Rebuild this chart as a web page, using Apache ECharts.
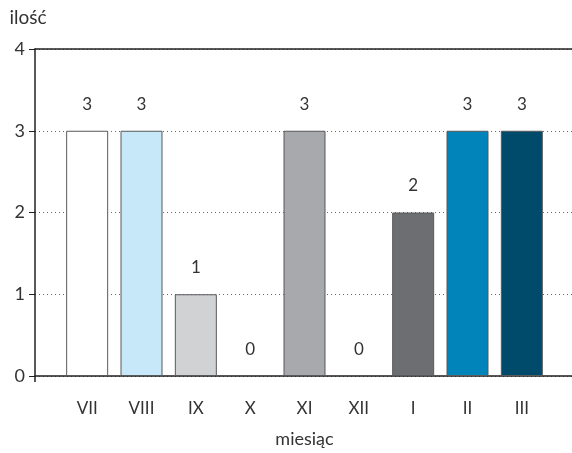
<!DOCTYPE html>
<html>
<head>
<meta charset="utf-8">
<script src="https://cdn.jsdelivr.net/npm/echarts@6/dist/echarts.min.js"></script>
<style>
  html, body { margin: 0; padding: 0; background: #fff; }
  #chart { width: 572px; height: 453px; }
</style>
</head>
<body>
<div id="chart"></div>
<script>
// Monthly counts, July through March
const months = ['VII', 'VIII', 'IX', 'X', 'XI', 'XII', 'I', 'II', 'III'];
const counts = [3, 3, 1, 0, 3, 0, 2, 3, 3];
const barColors = ['#ffffff', '#c7e8f8', '#d1d2d4', '#ffffff', '#a7a9ac', '#ffffff', '#6d6e71', '#0084ba', '#004b6c'];
const yTicks = [0, 1, 2, 3, 4];

const FONT = 'Lato';
const TEXT = '#333333';
const AXIS = '#231f20';

const chart = echarts.init(document.getElementById('chart'), null, { renderer: 'canvas' });

chart.setOption({
  animation: false,
  backgroundColor: '#ffffff',
  grid: [
    // frame: y axis, dotted grid lines, top and bottom rules
    { left: 35, right: 0, top: 49, bottom: 77 },
    // bars and month labels
    { left: 60, right: 23, top: 49, bottom: 77 }
  ],
  xAxis: [
    {
      gridIndex: 0, type: 'value', min: 0, max: 1, position: 'bottom',
      axisLine: { show: true, lineStyle: { color: AXIS, width: 1.5 } },
      axisTick: { show: true, length: 6, customValues: [0], lineStyle: { color: AXIS, width: 1.5 } },
      axisLabel: { show: false }, splitLine: { show: false }
    },
    {
      gridIndex: 0, type: 'value', min: 0, max: 1, position: 'top',
      axisLine: { show: true, lineStyle: { color: AXIS, width: 1.5 } },
      axisTick: { show: false }, axisLabel: { show: false }, splitLine: { show: false }
    },
    {
      gridIndex: 1, type: 'category', data: months,
      axisLine: { show: false }, axisTick: { show: false },
      axisLabel: { color: TEXT, fontFamily: FONT, fontSize: 17, margin: 24 },
      name: 'miesiąc', nameLocation: 'middle', nameGap: 54,
      nameTextStyle: { color: TEXT, fontFamily: FONT, fontSize: 18 }
    }
  ],
  yAxis: [
    {
      gridIndex: 0, type: 'value', min: yTicks[0], max: yTicks[yTicks.length - 1], interval: 1,
      axisLine: { show: true, lineStyle: { color: AXIS, width: 1.5 } },
      axisTick: { show: true, length: 6, lineStyle: { color: AXIS, width: 1 } },
      axisLabel: { color: TEXT, fontFamily: FONT, fontSize: 18, margin: 10 },
      splitLine: { show: true, lineStyle: { color: '#666666', type: [1, 3], width: 1 } },
      name: 'ilość', nameLocation: 'end', nameGap: 22,
      nameTextStyle: { color: TEXT, fontFamily: FONT, fontSize: 19, padding: [0, 14, 0, 0] }
    },
    {
      gridIndex: 1, type: 'value', min: yTicks[0], max: yTicks[yTicks.length - 1], show: false
    }
  ],
  series: [
    {
      type: 'bar',
      xAxisIndex: 2, yAxisIndex: 1,
      barWidth: 42,
      data: counts.map((v, i) => ({
        value: v,
        itemStyle: { color: barColors[i], borderColor: '#58595b', borderWidth: v > 0 ? 1 : 0 }
      })),
      label: {
        show: true, position: 'top', distance: 18,
        color: TEXT, fontFamily: FONT, fontSize: 17
      }
    }
  ]
});
</script>
</body>
</html>
